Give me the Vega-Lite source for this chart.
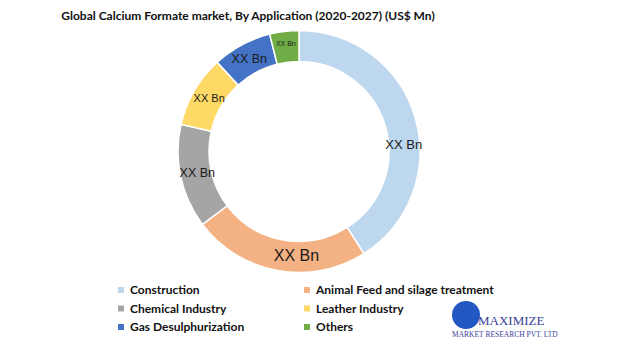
{
  "$schema": "https://vega.github.io/schema/vega-lite/v6.json",
  "width": 598,
  "height": 243,
  "autosize": {"type": "none"},
  "padding": {"left": 0, "top": 30, "right": 33, "bottom": 84},
  "background": "white",
  "config": {"view": {"stroke": null}},
  "title": {
    "text": "Global Calcium Formate market, By Application (2020-2027) (US$ Mn)",
    "font": "Lato",
    "fontSize": 12,
    "fontWeight": "bold",
    "color": "#111111",
    "anchor": "middle",
    "dx": -51,
    "offset": 5
  },
  "datasets": {
    "main": [
      {"idx": 1, "category": "Construction", "share": 41.0, "label": "XX Bn"},
      {"idx": 2, "category": "Animal Feed and silage treatment", "share": 23.7, "label": "XX Bn"},
      {"idx": 3, "category": "Chemical Industry", "share": 13.9, "label": "XX Bn"},
      {"idx": 4, "category": "Leather Industry", "share": 9.6, "label": "XX Bn"},
      {"idx": 5, "category": "Gas Desulphurization", "share": 7.9, "label": "XX Bn"},
      {"idx": 6, "category": "Others", "share": 3.9, "label": "XX Bn"}
    ],
    "brand": [{"brand": "MAXIMIZE"}]
  },
  "data": {"name": "main"},
  "layer": [
    {
      "mark": {"type": "arc", "outerRadius": 121, "innerRadius": 90, "stroke": "white", "strokeWidth": 1.5},
      "encoding": {
        "theta": {"field": "share", "type": "quantitative", "stack": true},
        "order": {"field": "idx"},
        "color": {
          "field": "category",
          "type": "nominal",
          "sort": null,
          "scale": {
            "domain": ["Construction", "Chemical Industry", "Gas Desulphurization", "Animal Feed and silage treatment", "Leather Industry", "Others"],
            "range": ["#BDD7EE", "#A5A5A5", "#4472C4", "#F4B183", "#FFD966", "#70AD47"]
          },
          "legend": {
            "orient": "none",
            "legendX": 115,
            "legendY": 254,
            "title": null,
            "columns": 2,
            "padding": 0,
            "symbolType": "square",
            "symbolSize": 36,
            "symbolStrokeWidth": 0,
            "labelFont": "Lato",
            "labelFontSize": 12,
            "labelFontWeight": "bold",
            "labelColor": "#111111",
            "labelOffset": 3,
            "labelLimit": 300,
            "rowPadding": 6.5,
            "columnPadding": 56
          }
        }
      }
    },
    {
      "mark": {"type": "text", "radius": 105, "thetaOffset": 0.22, "font": "Liberation Sans", "fontSize": 13, "color": "#1a1a1a"},
      "encoding": {
        "theta": {"field": "share", "type": "quantitative", "stack": true},
        "order": {"field": "idx"},
        "text": {"condition": {"test": "datum.category === 'Construction'", "field": "label"}, "value": ""}
      }
    },
    {
      "mark": {"type": "text", "radius": 105, "thetaOffset": -0.155, "font": "Liberation Sans", "fontSize": 16, "color": "#1a1a1a"},
      "encoding": {
        "theta": {"field": "share", "type": "quantitative", "stack": true},
        "order": {"field": "idx"},
        "text": {"condition": {"test": "datum.category === 'Animal Feed and silage treatment'", "field": "label"}, "value": ""}
      }
    },
    {
      "mark": {"type": "text", "radius": 104, "font": "Liberation Sans", "fontSize": 12.5, "color": "#1a1a1a"},
      "encoding": {
        "theta": {"field": "share", "type": "quantitative", "stack": true},
        "order": {"field": "idx"},
        "text": {"condition": {"test": "datum.category === 'Chemical Industry'", "field": "label"}, "value": ""}
      }
    },
    {
      "mark": {"type": "text", "radius": 104, "font": "Liberation Sans", "fontSize": 11, "color": "#1a1a1a"},
      "encoding": {
        "theta": {"field": "share", "type": "quantitative", "stack": true},
        "order": {"field": "idx"},
        "text": {"condition": {"test": "datum.category === 'Leather Industry'", "field": "label"}, "value": ""}
      }
    },
    {
      "mark": {"type": "text", "radius": 105, "font": "Liberation Sans", "fontSize": 12.5, "color": "#1a1a1a"},
      "encoding": {
        "theta": {"field": "share", "type": "quantitative", "stack": true},
        "order": {"field": "idx"},
        "text": {"condition": {"test": "datum.category === 'Gas Desulphurization'", "field": "label"}, "value": ""}
      }
    },
    {
      "mark": {"type": "text", "radius": 108, "font": "Liberation Sans", "fontSize": 7, "color": "#1a1a1a"},
      "encoding": {
        "theta": {"field": "share", "type": "quantitative", "stack": true},
        "order": {"field": "idx"},
        "text": {"condition": {"test": "datum.category === 'Others'", "field": "label"}, "value": ""}
      }
    },
    {
      "data": {"name": "brand"},
      "mark": {"type": "point", "filled": true, "opacity": 0},
      "encoding": {
        "fill": {
          "field": "brand",
          "type": "nominal",
          "scale": {"range": ["#2358C2"]},
          "legend": {
            "orient": "none",
            "legendX": 452,
            "legendY": 271,
            "title": "MARKET RESEARCH PVT. LTD",
            "titleOrient": "bottom",
            "titleFont": "Liberation Serif",
            "titleFontSize": 7.5,
            "titleFontWeight": "normal",
            "titleColor": "#3A3F9A",
            "titlePadding": 2,
            "padding": 0,
            "symbolType": "circle",
            "symbolSize": 784,
            "symbolOpacity": 1,
            "symbolStrokeWidth": 0,
            "labelFont": "Liberation Serif",
            "labelFontSize": 13,
            "labelColor": "#3A3F9A",
            "labelOffset": -2,
            "labelBaseline": "top"
          }
        }
      }
    }
  ]
}
